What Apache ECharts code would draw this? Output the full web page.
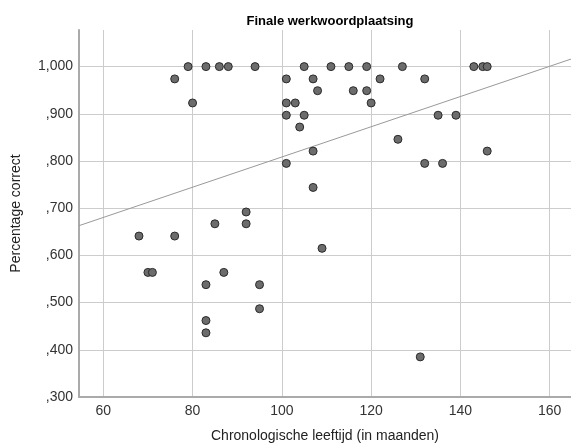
<!DOCTYPE html>
<html>
<head>
<meta charset="utf-8">
<script src="https://cdn.jsdelivr.net/npm/echarts@6/dist/echarts.min.js"></script>
<style>
  html, body { margin: 0; padding: 0; background: #fff; }
  #chart { width: 571px; height: 448px; }
</style>
</head>
<body>
<div id="chart"></div>
<script>
const ageMonths = [79, 83, 86, 88, 94, 105, 111, 115, 119, 127, 143, 145, 146,
  76, 101, 107, 122, 132,
  108, 116, 119,
  80, 101, 103, 120,
  101, 105, 135, 139,
  104, 126, 107, 146,
  101, 132, 136,
  107, 92, 85, 92, 68, 76, 109,
  70, 71, 87, 83, 95, 95, 83, 83, 131];
const pctCorrect = [1, 1, 1, 1, 1, 1, 1, 1, 1, 1, 1, 1, 1,
  0.974, 0.974, 0.974, 0.974, 0.974,
  0.949, 0.949, 0.949,
  0.923, 0.923, 0.923, 0.923,
  0.897, 0.897, 0.897, 0.897,
  0.872, 0.846, 0.821, 0.821,
  0.795, 0.795, 0.795,
  0.744, 0.692, 0.667, 0.667, 0.641, 0.641, 0.615,
  0.564, 0.564, 0.564, 0.538, 0.538, 0.487, 0.462, 0.436, 0.385];

// fit line ends
const fitAge = [54.56, 164.77];
const fitPct = [0.663, 1.016];

const xTicks = [60, 80, 100, 120, 140, 160];
const yTicks = [0.3, 0.4, 0.5, 0.6, 0.7, 0.8, 0.9, 1.0];

const font = 'Liberation Sans, Arial, sans-serif';

const chart = echarts.init(document.getElementById('chart'));

const points = ageMonths.map((a, i) => [a, pctCorrect[i]]);
const fit = fitAge.map((a, i) => [a, fitPct[i]]);

chart.setOption({
  animation: false,
  title: {
    text: 'Finale werkwoordplaatsing',
    left: 325,
    textAlign: 'center',
    top: 10,
    textStyle: { fontFamily: font, fontSize: 13, fontWeight: 'bold', color: '#000' }
  },
  grid: { left: 79, top: 30, right: 0, bottom: 49, containLabel: false },
  xAxis: {
    type: 'value',
    min: 54.56,
    max: 164.77,
    // no fixed interval: min is not a multiple of 20, so let the scale snap ticks to 60, 80, ...
    splitNumber: 5,
    minInterval: 20,
    maxInterval: 20,
    name: 'Chronologische leeftijd (in maanden)',
    nameLocation: 'middle',
    nameGap: 32,
    nameTextStyle: { fontFamily: font, fontSize: 14, color: '#222' },
    axisLine: { show: true, lineStyle: { color: '#aaa', width: 2 } },
    axisTick: { show: false },
    axisLabel: {
      fontFamily: font, fontSize: 14, color: '#333', margin: 7,
      showMinLabel: false, showMaxLabel: false,
      formatter: v => xTicks.indexOf(v) >= 0 ? String(v) : ''
    },
    splitLine: { show: true, showMinLine: false, showMaxLine: false, lineStyle: { color: '#ccc', width: 1 } }
  },
  yAxis: {
    type: 'value',
    min: 0.3,
    max: 1.0776,
    interval: 0.1,
    name: 'Percentage correct',
    nameLocation: 'middle',
    nameGap: 56,
    nameTextStyle: { fontFamily: font, fontSize: 14, color: '#222' },
    axisLine: { show: true, lineStyle: { color: '#aaa', width: 2 } },
    axisTick: { show: false },
    axisLabel: {
      fontFamily: font, fontSize: 14, color: '#333', margin: 6,
      showMaxLabel: false,
      formatter: v => {
        const t = yTicks.find(k => Math.abs(k - v) < 1e-6);
        if (t === undefined) return '';
        return t.toFixed(3).replace(/^0/, '').replace('.', ',');
      }
    },
    splitLine: { show: true, showMinLine: false, showMaxLine: false, lineStyle: { color: '#ccc', width: 1 } }
  },
  series: [
    {
      type: 'line',
      data: fit,
      symbol: 'none',
      lineStyle: { color: '#999', width: 1 },
      silent: true,
      z: 1
    },
    {
      type: 'scatter',
      data: points,
      symbolSize: 8,
      itemStyle: { color: '#6c6c6c', borderColor: '#2a2a2a', borderWidth: 1, opacity: 1 },
      z: 2
    }
  ]
});
</script>
</body>
</html>
